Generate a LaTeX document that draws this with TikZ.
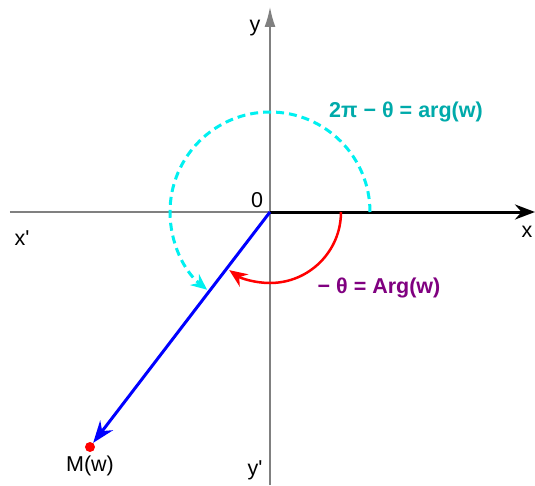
\documentclass[tikz,border=0pt]{standalone}
\usepackage{fontspec}
\setmainfont{Liberation Sans}
\setsansfont{Liberation Sans}
\usetikzlibrary{arrows.meta, positioning, calc}
\definecolor{argteal}{RGB}{0,170,170}
\definecolor{argpurple}{RGB}{128,0,128}
\definecolor{arccyan}{RGB}{0,240,240}

\begin{document}
\begin{tikzpicture}[
        x=1pt, y=1pt,
        font=\sffamily\fontsize{21.5}{25}\selectfont,
        >={Stealth[length=20pt, width=15pt]},
        axisline/.style={gray, line width=1.5pt},
        anglabel/.style={font=\sffamily\bfseries\fontsize{21.5}{25}\selectfont}
    ]

        % Frame of the picture
        \useasboundingbox (-270,-273) rectangle (265,212);

        % Axes
        \coordinate (O) at (0,0);
        \coordinate (xneg) at (-260,0);
        \coordinate (xpos) at (265,0);
        \coordinate (yneg) at (0,-273);
        \coordinate (ypos) at (0,205);
        \draw[axisline] (xneg) -- (O);
        \draw[axisline, -{Latex[length=20pt, width=11pt]}] (yneg) -- (ypos);
        \draw[line width=3pt, ->] (O) -- (xpos);

        % Axis names
        \foreach \px/\py/\name/\txt in {-15/184/ylab/y, -248/-26/xneglab/x\textquotesingle, 257/-20/xlab/x, -15/-258/yneglab/y\textquotesingle, -13/12/olab/0} {
            \node (\name) at (\px,\py) {\txt};
        }

        % Point M and its vector
        \node[circle, fill=red, inner sep=0pt, minimum size=10pt] (M) at (-180,-235) {};
        \node[below=0pt of M] (Mlab) {M(w)};
        \draw[blue, line width=3pt, -{Stealth[length=22pt, width=16pt]}] (O) -- (M);

        % Angles
        \draw[arccyan, line width=3pt, dash pattern=on 8pt off 5pt, -{Stealth[length=16pt, width=14pt]}] ($(O)+(100,0)$) arc[start angle=0, end angle=231, radius=100];
        \draw[red, line width=2.5pt, -{Stealth[length=18pt, width=15pt]}] ($(O)+(71,0)$) arc[start angle=0, end angle=-125, radius=71];

        \node[anglabel, text=argteal] (arglab) at (136,100) {2π − θ = arg(w)};
        \node[anglabel, text=argpurple] (Arglab) at (109,-76) {− θ = Arg(w)};

    \end{tikzpicture}
\end{document}
